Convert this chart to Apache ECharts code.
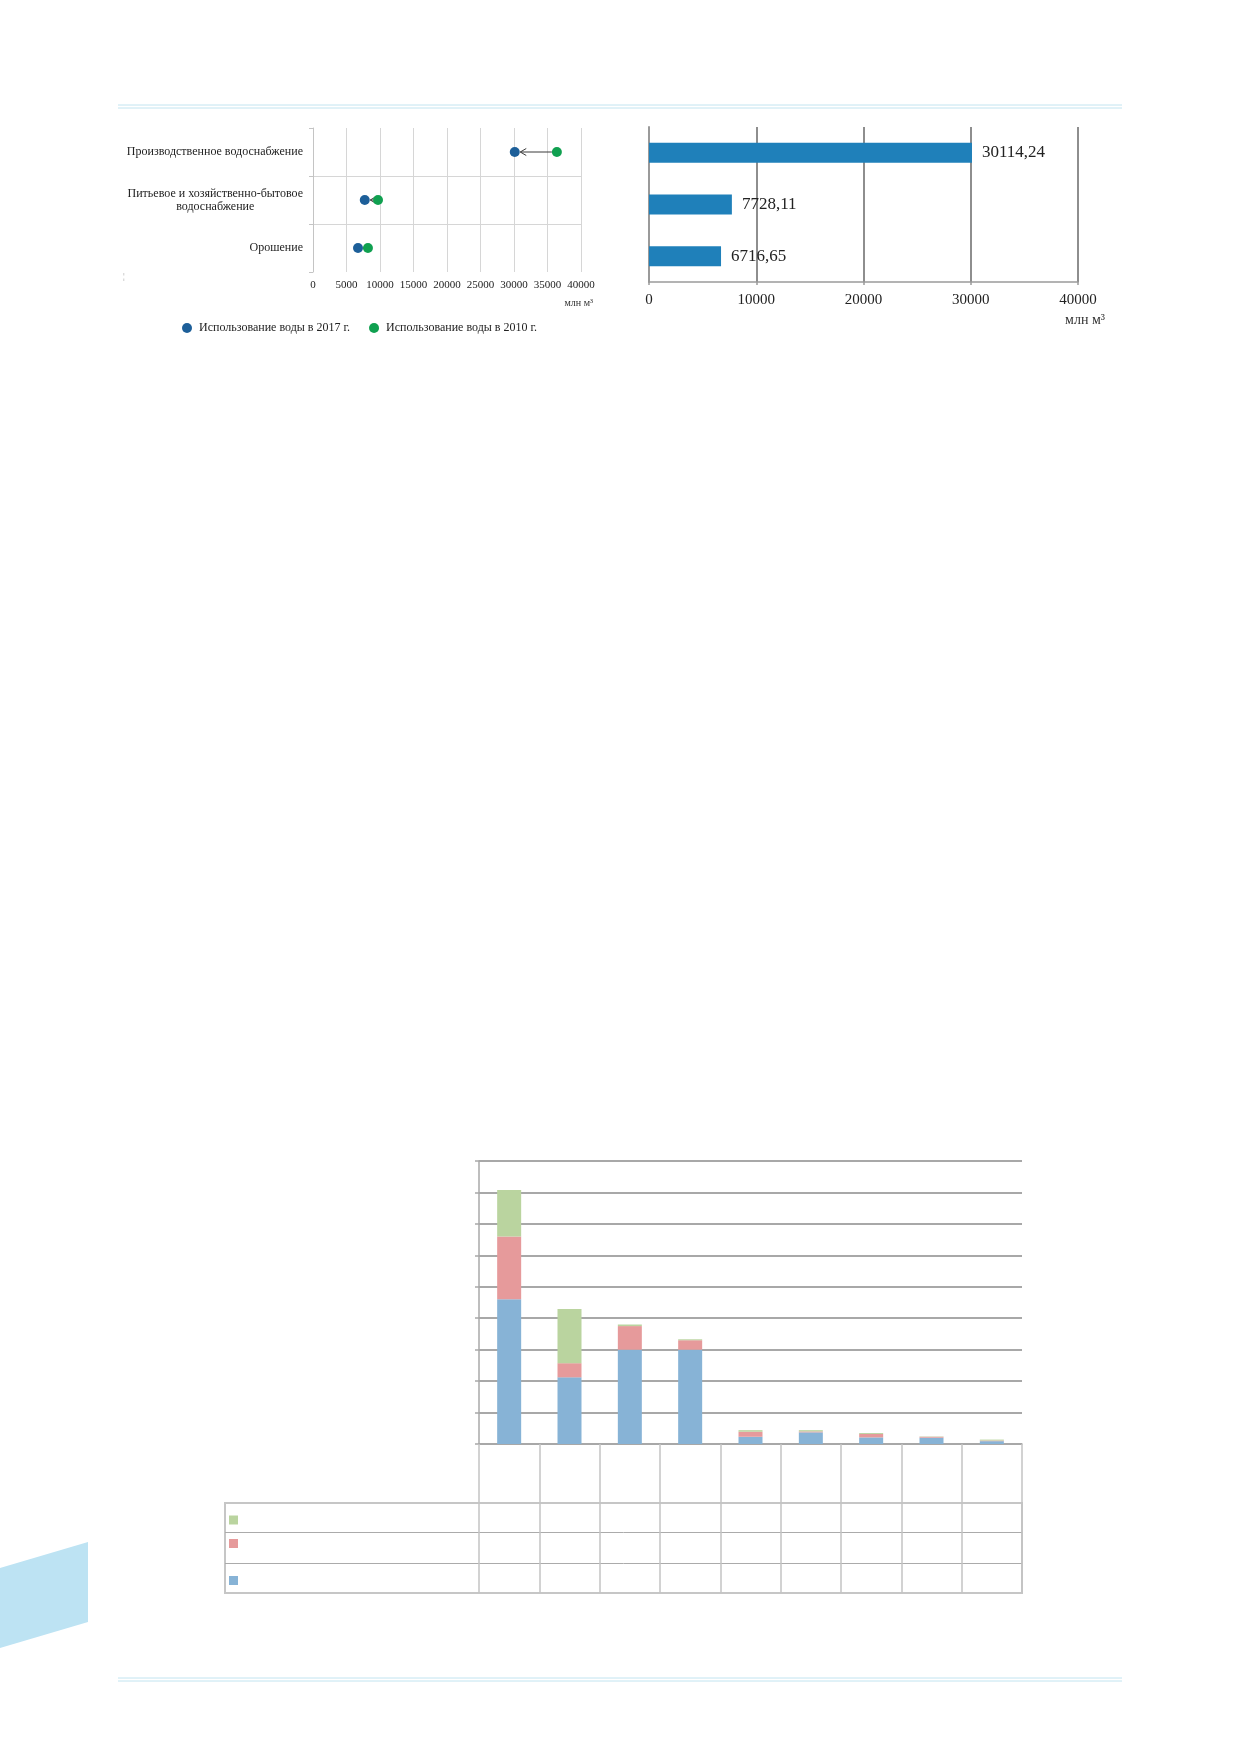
<!DOCTYPE html>
<html>
<head>
<meta charset="utf-8">
<title>Использование воды</title>
<script src="https://cdn.jsdelivr.net/npm/echarts@6.0.0/dist/echarts.min.js"></script>
<style>
  html, body { margin: 0; padding: 0; background: #fff; }
  #main { width: 1239px; height: 1752px; }
</style>
</head>
<body>
<div id="main"></div>
<script>
// категории водопользования (верхние графики)
const useCats = ['Производственное водоснабжение', 'Питьевое и хозяйственно-бытовое\nводоснабжение', 'Орошение'];
const use2017 = [30114.24, 7728.11, 6716.65];
const use2010 = [36400, 9700, 8200];
const name2017 = 'Использование воды в 2017 г.';
const name2010 = 'Использование воды в 2010 г.';
const scatterTicks = [0, 40000, 5000];   // min, max, шаг
const barTicks = [0, 40000, 10000];
const unitLabel = 'млн м³';

// нижний график: 9 столбцов, подписи в исходнике не видны
const bottomCats = ['1', '2', '3', '4', '5', '6', '7', '8', '9'];
const bottomNames = ['Ряд 1', 'Ряд 2', 'Ряд 3'];
const bottomBlue = [4.6, 2.12, 3.0, 3.0, 0.23, 0.37, 0.21, 0.2, 0.09];
const bottomRed = [2.0, 0.45, 0.75, 0.3, 0.16, 0.03, 0.11, 0.03, 0.02];
const bottomGreen = [1.48, 1.72, 0.05, 0.03, 0.05, 0.04, 0.03, 0.01, 0.03];
const bottomTicks = [0, 9, 1];

const FONT = 'Liberation Serif';
const C2017 = '#1d5f99';
const C2010 = '#10a050';
const BAR = '#1f80ba';
const BLUE = '#87b3d6', RED = '#e69a9b', GREEN = '#bad49f';
const DIV = '#c2e4f0';

const chart = echarts.init(document.getElementById('main'), null, { renderer: 'canvas' });

// стрелки от 2010 к 2017
const arrowData = use2010.map((v, i) => [v, use2017[i], i]);

function renderArrow(params, api) {
  const a = api.coord([api.value(0), api.value(2)]);
  const b = api.coord([api.value(1), api.value(2)]);
  const r = 5;
  const tip = b[0] + r + 0.5;
  return {
    type: 'group',
    children: [
      { type: 'line', shape: { x1: a[0] - r, y1: a[1], x2: tip, y2: b[1] },
        style: { stroke: '#3a3a3a', lineWidth: 1 } },
      { type: 'polyline', shape: { points: [[tip + 6, b[1] - 3.5], [tip, b[1]], [tip + 6, b[1] + 3.5]] },
        style: { stroke: '#3a3a3a', fill: null, lineWidth: 1 } }
    ]
  };
}

const plain = v => String(v);

const option = {
  backgroundColor: '#fff',
  animation: false,
  textStyle: { fontFamily: FONT },
  grid: [
    { left: 313, top: 128, width: 268, height: 144 },
    { left: 649, top: 127, width: 429, height: 155 },
    { left: 479, top: 1161, width: 543, height: 283 }
  ],
  legend: [
    {
      data: [name2017, name2010], left: 182, top: 322, padding: 0,
      icon: 'circle', itemWidth: 10, itemHeight: 10, itemGap: 19,
      selectedMode: false,
      textStyle: { fontFamily: FONT, fontSize: 12, color: '#222', padding: [0, 0, 0, 2] }
    },
    { data: [bottomNames[2]], left: 229, top: 1515.5, padding: 0, icon: 'rect', itemWidth: 9, itemHeight: 9,
      selectedMode: false, formatter: () => '' },
    { data: [bottomNames[1]], left: 229, top: 1539, padding: 0, icon: 'rect', itemWidth: 9, itemHeight: 9,
      selectedMode: false, formatter: () => '' },
    { data: [bottomNames[0]], left: 229, top: 1576, padding: 0, icon: 'rect', itemWidth: 9, itemHeight: 9,
      selectedMode: false, formatter: () => '' }
  ],
  xAxis: [
    {
      gridIndex: 0, type: 'value',
      min: scatterTicks[0], max: scatterTicks[1], interval: scatterTicks[2],
      axisLine: { show: false }, axisTick: { show: false },
      splitLine: { show: true, lineStyle: { color: '#d6d6d6', width: 1 } },
      axisLabel: { fontFamily: FONT, fontSize: 11, color: '#222', margin: 8, formatter: plain }
    },
    {
      gridIndex: 1, type: 'value',
      min: barTicks[0], max: barTicks[1], interval: barTicks[2],
      axisLine: { show: true, lineStyle: { color: '#9a9a9a', width: 1.5 } },
      axisTick: { show: true, length: 3, lineStyle: { color: '#9a9a9a', width: 1.5 } },
      splitLine: { show: true, lineStyle: { color: '#8e8e8e', width: 2 } },
      axisLabel: { fontFamily: FONT, fontSize: 15, color: '#222', margin: 11, formatter: plain }
    },
    {
      gridIndex: 2, type: 'category', data: bottomCats,
      axisLine: { show: true, lineStyle: { color: '#a8a8a8', width: 1.5 } },
      axisTick: { show: true, length: 149, lineStyle: { color: '#c4c4c4', width: 1.5 } },
      axisLabel: { show: false },
      splitLine: { show: false }
    }
  ],
  yAxis: [
    {
      gridIndex: 0, type: 'category', data: useCats, inverse: true,
      axisLine: { show: true, lineStyle: { color: '#c4c4c4', width: 1 } },
      axisTick: { show: true, length: 4, lineStyle: { color: '#c4c4c4' } },
      splitLine: { show: true, showMinLine: false, showMaxLine: false, lineStyle: { color: '#d6d6d6', width: 1 } },
      axisLabel: {
        margin: 10, align: 'right',
        formatter: v => v.split('\n').map(s => '{c|' + s + '}').join('\n'),
        rich: { c: { align: 'center', fontFamily: FONT, fontSize: 12, lineHeight: 13, color: '#222' } }
      }
    },
    {
      gridIndex: 1, type: 'category', data: useCats, inverse: true,
      axisLine: { show: true, lineStyle: { color: '#9a9a9a', width: 2 } },
      axisTick: { show: false }, axisLabel: { show: false }, splitLine: { show: false }
    },
    {
      gridIndex: 2, type: 'value',
      min: bottomTicks[0], max: bottomTicks[1], interval: bottomTicks[2],
      axisLine: { show: true, lineStyle: { color: '#a8a8a8', width: 1.5 } },
      axisTick: { show: true, length: 4, lineStyle: { color: '#a8a8a8', width: 1.5 } },
      splitLine: { show: true, lineStyle: { color: '#a8a8a8', width: 2 } },
      axisLabel: { show: false }
    }
  ],
  series: [
    {
      type: 'custom', name: 'arrows', xAxisIndex: 0, yAxisIndex: 0,
      renderItem: renderArrow, data: arrowData,
      encode: { x: [0, 1], y: 2 }, z: 2, silent: true
    },
    {
      name: name2017, type: 'scatter', xAxisIndex: 0, yAxisIndex: 0,
      data: use2017.map((v, i) => [v, i]),
      symbolSize: 10, itemStyle: { color: C2017, opacity: 1 }, z: 3
    },
    {
      name: name2010, type: 'scatter', xAxisIndex: 0, yAxisIndex: 0,
      data: use2010.map((v, i) => [v, i]),
      symbolSize: 10, itemStyle: { color: C2010, opacity: 1 }, z: 3
    },
    {
      name: 'bars2017', type: 'bar', xAxisIndex: 1, yAxisIndex: 1,
      data: use2017, barWidth: 20, itemStyle: { color: BAR },
      label: {
        show: true, position: 'right', distance: 10,
        fontFamily: FONT, fontSize: 17, color: '#222',
        formatter: p => p.value.toFixed(2).replace('.', ',')
      }
    },
    {
      name: bottomNames[0], type: 'bar', stack: 'b', xAxisIndex: 2, yAxisIndex: 2,
      data: bottomBlue, barWidth: 24, itemStyle: { color: BLUE }
    },
    {
      name: bottomNames[1], type: 'bar', stack: 'b', xAxisIndex: 2, yAxisIndex: 2,
      data: bottomRed, barWidth: 24, itemStyle: { color: RED }
    },
    {
      name: bottomNames[2], type: 'bar', stack: 'b', xAxisIndex: 2, yAxisIndex: 2,
      data: bottomGreen, barWidth: 24, itemStyle: { color: GREEN }
    }
  ],
  graphic: [
    // разделители страницы
    { type: 'line', shape: { x1: 118, y1: 105, x2: 1122, y2: 105 }, style: { stroke: DIV, lineWidth: 1 } },
    { type: 'line', shape: { x1: 118, y1: 108, x2: 1122, y2: 108 }, style: { stroke: DIV, lineWidth: 1 } },
    { type: 'line', shape: { x1: 118, y1: 1678, x2: 1122, y2: 1678 }, style: { stroke: DIV, lineWidth: 1 } },
    { type: 'line', shape: { x1: 118, y1: 1681, x2: 1122, y2: 1681 }, style: { stroke: DIV, lineWidth: 1 } },
    // декоративная плашка слева
    { type: 'polygon', shape: { points: [[0, 1568], [88, 1542], [88, 1622], [0, 1648]] }, style: { fill: '#bde3f3' } },
    // подписи единиц
    { type: 'text', x: 593, y: 303, style: { text: unitLabel, font: '10px "' + FONT + '"', fill: '#333', align: 'right', verticalAlign: 'middle' } },
    { type: 'text', x: 1105, y: 320, style: { text: unitLabel, font: '14px "' + FONT + '"', fill: '#333', align: 'right', verticalAlign: 'middle' } },
    { type: 'text', x: 124, y: 277, style: { text: '¦', font: '9px "' + FONT + '"', fill: '#999', align: 'center', verticalAlign: 'middle' } },
    // таблица данных под нижним графиком
    { type: 'rect', shape: { x: 225, y: 1503, width: 797, height: 90 }, style: { stroke: '#c6c6c6', fill: null, lineWidth: 2 } },
    { type: 'line', shape: { x1: 225, y1: 1532.5, x2: 1022, y2: 1532.5 }, style: { stroke: '#ababab', lineWidth: 1 } },
    { type: 'line', shape: { x1: 225, y1: 1563.5, x2: 1022, y2: 1563.5 }, style: { stroke: '#ababab', lineWidth: 1 } }
  ]
};

chart.setOption(option);
</script>
</body>
</html>
